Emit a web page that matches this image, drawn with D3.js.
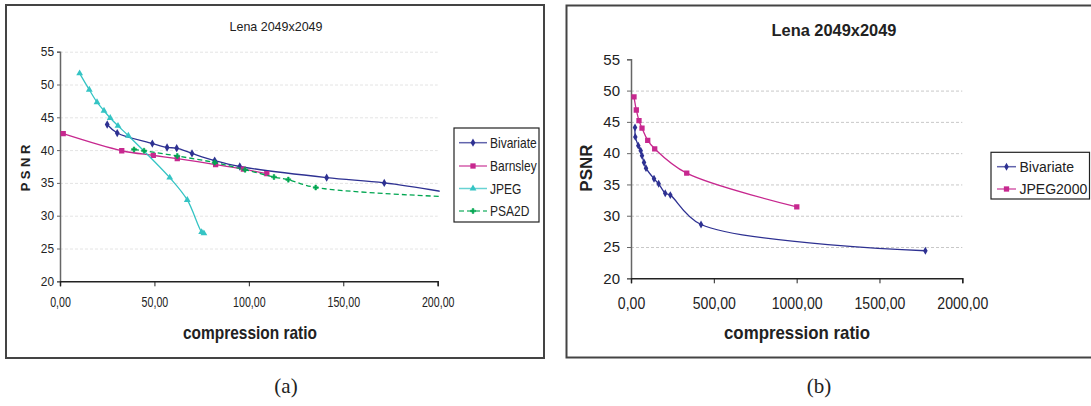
<!DOCTYPE html>
<html>
<head>
<meta charset="utf-8">
<script src="https://cdn.jsdelivr.net/npm/d3@7"></script>
<style>
  body { margin: 0; background: #fff; }
  svg { display: block; }
  text { font-family: "Liberation Sans", Arial, sans-serif; fill: #222; }
</style>
</head>
<body>
<svg id="fig" width="1091" height="406"></svg>
<script>
/* panel (a) data: [compression ratio, PSNR] */
const bivariateA = [[25.0,43.9],[30.3,42.6],[48.9,41.0],[56.7,40.4],[61.8,40.3],[69.9,39.5],[81.9,38.4],[95.2,37.5],[141.2,35.8],[171.7,35.0],[204,33.6]];
const barnsleyA = [[1.7,42.5],[32.7,39.9],[49.4,39.2],[62.1,38.7],[82.4,37.8],[97.1,37.1],[109.5,36.4]];
const jpegA = [[10.4,51.7],[15.5,49.2],[19.6,47.3],[23.3,46.0],[26.6,44.9],[30.7,43.7],[36.2,42.2],[58.1,35.8],[67.4,32.4],[75.0,27.5],[76.2,27.3]];
const psa2dA = [[39.2,40.1],[44.5,39.9],[62.1,39.1],[81.9,38.1],[98.0,37.0],[113.3,35.9],[120.9,35.5],[135.4,34.3],[204,32.9]];
const xTicksA = [0, 50, 100, 150, 200];

/* panel (b) data */
const bivariateB = [[24.2,44.1],[26,42.6],[44,41.2],[58.6,40.4],[66.4,39.6],[78.5,38.5],[90.6,37.6],[139,35.9],[167,35.1],[206.6,33.6],[237.4,33.3],[422.8,28.6],[1777,24.4]];
const jpeg2000B = [[18.1,49.0],[32.0,46.9],[48.3,45.2],[66.4,44.0],[100.9,42.05],[143.1,40.7],[336.4,36.8],[1000.8,31.4]];
const xTicksB = [0, 500, 1000, 1500, 2000];

const yTicks = [20, 25, 30, 35, 40, 45, 50, 55];
const title = 'Lena 2049x2049';

const svg = d3.select('#fig');
const fmt = (d) => d3.format('.2f')(d).replace('.', ',');

/* squash text horizontally like the scanned figure */
function squeeze(sel, f) {
  if (f === 1) return;
  sel.each(function () {
    const w = this.getComputedTextLength();
    d3.select(this).attr('textLength', w * f).attr('lengthAdjust', 'spacingAndGlyphs');
  });
}

function drawPanel(c) {
  const g = svg.append('g');

  g.append('rect')
    .attr('x', c.frame[0]).attr('y', c.frame[1])
    .attr('width', c.frame[2]).attr('height', c.frame[3])
    .attr('fill', 'none').attr('stroke', '#444').attr('stroke-width', 2);

  const x = d3.scaleLinear().domain(c.xDomain).range(c.xRange);
  const y = d3.scaleLinear().domain([20, 55]).range(c.yRange);

  /* gridlines */
  g.append('g')
    .attr('transform', `translate(${c.xRange[0]},0)`)
    .call(d3.axisLeft(y).tickValues(yTicks.slice(1, c.gridTop)).tickSize(-(c.xRange[1] - c.xRange[0])).tickFormat(''))
    .call((a) => a.select('.domain').remove())
    .call((a) => a.selectAll('line').attr('stroke', c.gridColor).attr('stroke-dasharray', '3,2'));

  /* axes */
  const ya = g.append('g')
    .attr('transform', `translate(${c.xRange[0]},0)`)
    .call(d3.axisLeft(y).tickValues(yTicks).tickSizeOuter(0).tickSize(c.yTickSize).tickPadding(c.yTickPad));
  ya.select('.domain').attr('stroke', '#666').attr('stroke-width', 1.5);
  ya.selectAll('line').attr('stroke', '#666');
  ya.selectAll('text').attr('font-size', c.yFont).attr('fill', '#222')
    .attr('font-family', '"Liberation Sans", Arial, sans-serif');
  squeeze(ya.selectAll('text'), c.yTickSq);

  const xa = g.append('g')
    .attr('transform', `translate(0,${c.yRange[0]})`)
    .call(d3.axisBottom(x).tickValues(c.xTicks).tickFormat(fmt).tickSizeOuter(0).tickSize(5).tickPadding(c.xTickPad));
  xa.select('.domain').attr('stroke', '#222').attr('stroke-width', 1.5);
  xa.selectAll('line').attr('stroke', '#222');
  xa.selectAll('text').attr('font-size', c.xFont).attr('fill', '#222')
    .attr('font-family', '"Liberation Sans", Arial, sans-serif');
  squeeze(xa.selectAll('text'), c.xTickSq);

  /* series */
  const clipId = 'clip' + c.id;
  g.append('clipPath').attr('id', clipId).append('rect')
    .attr('x', c.xRange[0]).attr('y', c.yRange[1] - 5)
    .attr('width', c.xRange[1] - c.xRange[0] + 2).attr('height', c.yRange[0] - c.yRange[1] + 5);

  const line = d3.line().x((d) => x(d[0])).y((d) => y(d[1])).curve(d3.curveCatmullRom.alpha(0.5));
  const plot = g.append('g').attr('clip-path', `url(#${clipId})`);

  c.series.forEach((s) => {
    plot.append('path').datum(s.data)
      .attr('d', line).attr('fill', 'none')
      .attr('stroke', s.colour).attr('stroke-width', 1.3)
      .attr('stroke-dasharray', s.dash || null);
    plot.selectAll(null).data(s.data).enter().append('path')
      .attr('transform', (d) => `translate(${x(d[0])},${y(d[1])})`)
      .attr('d', d3.symbol().type(s.symbol).size(s.size))
      .attr('fill', s.colour).attr('stroke', s.symbol === d3.symbolCross ? s.colour : 'none')
      .attr('stroke-width', 0.5);
  });

  /* legend */
  const L = c.legend;
  g.append('rect').attr('x', L.box[0]).attr('y', L.box[1]).attr('width', L.box[2]).attr('height', L.box[3])
    .attr('fill', '#fff').attr('stroke', '#222').attr('stroke-width', 1.2);
  c.series.forEach((s, i) => {
    const ly = L.rows[i];
    g.append('line').attr('x1', L.line[0]).attr('x2', L.line[1]).attr('y1', ly).attr('y2', ly)
      .attr('stroke', s.colour).attr('stroke-width', 1.5).attr('stroke-opacity', 0.75)
      .attr('stroke-dasharray', s.dash || null);
    g.append('path').attr('transform', `translate(${(L.line[0] + L.line[1]) / 2},${ly})`)
      .attr('d', d3.symbol().type(s.symbol).size(s.size)).attr('fill', s.colour)
      .attr('stroke', s.symbol === d3.symbolCross ? s.colour : 'none').attr('stroke-width', 0.5);
    const t = g.append('text').attr('x', L.textX).attr('y', ly).attr('dy', '0.35em')
      .attr('font-size', L.font).text(s.name);
    squeeze(t, L.sq);
  });

  /* titles */
  c.texts.forEach((t) => {
    const el = g.append('text').attr('x', t.x).attr('y', t.y)
      .attr('font-size', t.size).attr('font-weight', t.bold ? 'bold' : null)
      .attr('text-anchor', t.anchor || 'middle')
      .attr('transform', t.rotate ? `rotate(-90,${t.x},${t.y})` : null)
      .text(t.text);
    if (t.width) el.attr('textLength', t.width).attr('lengthAdjust', 'spacingAndGlyphs');
  });
}

drawPanel({
  id: 'a',
  frame: [6, 5, 538, 353],
  xDomain: [0, 200], xRange: [60, 437.7], yRange: [281.3, 51.7],
  xTicks: xTicksA, gridTop: 8, gridColor: '#e4e4e4',
  yFont: 12.5, yTickSize: 3, yTickPad: 3, yTickSq: 0.95,
  xFont: 14, xTickPad: 10.5, xTickSq: 0.76,
  series: [
    { name: 'Bivariate', data: bivariateA, colour: '#2e3192', symbol: d3.symbolDiamond, size: 20 },
    { name: 'Barnsley', data: barnsleyA, colour: '#c7288f', symbol: d3.symbolSquare, size: 28 },
    { name: 'JPEG', data: jpegA, colour: '#35c4c4', symbol: d3.symbolTriangle, size: 20 },
    { name: 'PSA2D', data: psa2dA, colour: '#00a651', symbol: d3.symbolCross, size: 14, dash: '5,3' },
  ],
  legend: { box: [454, 128, 85, 94], rows: [142.7, 166, 188.5, 211], line: [459, 487], textX: 490, font: 15, sq: 0.8 },
  texts: [
    { text: title, x: 276, y: 31, size: 13.5, width: 93 },
    { text: 'P S N R', x: 30, y: 168, size: 13, bold: true, rotate: true },
    { text: 'compression ratio', x: 250, y: 339, size: 19, bold: true, width: 134 },
  ],
});

drawPanel({
  id: 'b',
  frame: [566.5, 5.5, 530, 352],
  xDomain: [0, 2000], xRange: [631, 962.3], yRange: [278.3, 59.3],
  xTicks: xTicksB, gridTop: 7, gridColor: '#c8c8c8',
  yFont: 15, yTickSize: 4, yTickPad: 7, yTickSq: 1,
  xFont: 16, xTickPad: 14, xTickSq: 0.88,
  series: [
    { name: 'Bivariate', data: bivariateB, colour: '#2e3192', symbol: d3.symbolDiamond, size: 18 },
    { name: 'JPEG2000', data: jpeg2000B, colour: '#c7288f', symbol: d3.symbolSquare, size: 28 },
  ],
  legend: { box: [991, 152.3, 98.5, 46.7], rows: [166.7, 189], line: [997, 1016], textX: 1019.5, font: 14, sq: 1 },
  texts: [
    { text: title, x: 834, y: 36, size: 16.5, bold: true, width: 125 },
    { text: 'PSNR', x: 592, y: 168, size: 17, bold: true, rotate: true },
    { text: 'compression ratio', x: 797, y: 339, size: 19, bold: true, width: 146 },
  ],
});

/* sub-figure captions */
svg.selectAll('text.cap').data(['(a)', '(b)']).enter().append('text')
  .attr('class', 'cap')
  .attr('x', (d, i) => [286, 819][i]).attr('y', 393)
  .attr('text-anchor', 'middle').attr('font-size', 21)
  .style('font-family', '"Liberation Serif", "DejaVu Serif", serif')
  .text((d) => d);
</script>
</body>
</html>
